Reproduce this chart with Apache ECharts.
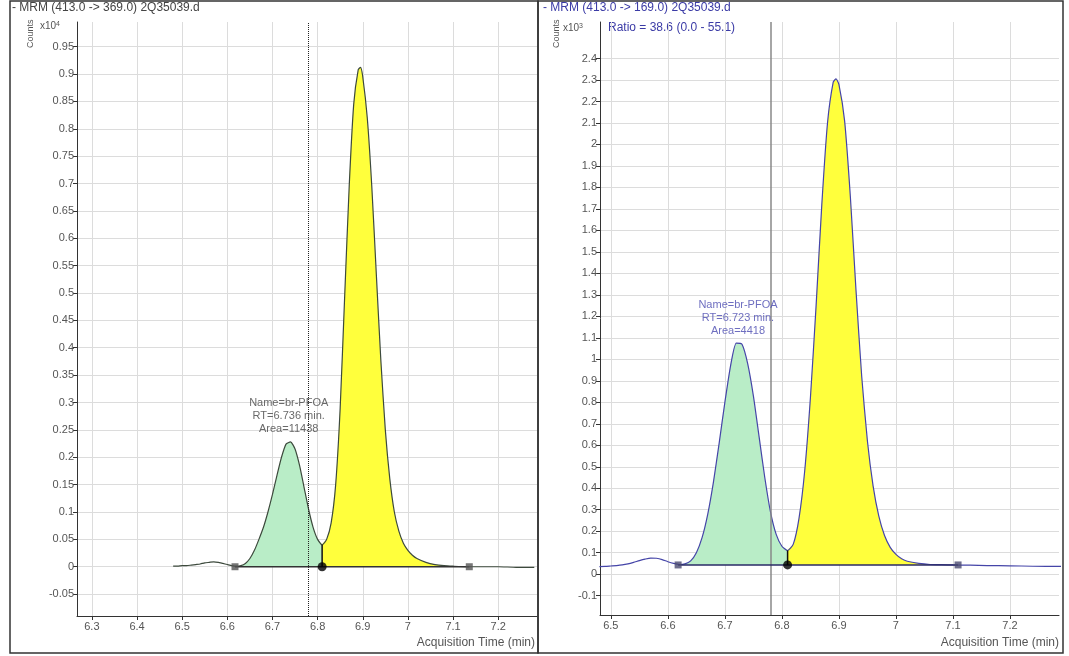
<!DOCTYPE html>
<html lang="en">
<head>
<meta charset="UTF-8" />
<title>MRM br-PFOA chromatograms</title>
<script src="https://cdn.jsdelivr.net/npm/echarts@6/dist/echarts.min.js"></script>
<style>
	html, body { margin: 0; padding: 0; background: #fff; }
	#main { width: 1069px; height: 656px; }
</style>
</head>
<body>
<div id="main"></div>
<script>
// left: MRM (413.0 -> 369.0), counts in x10^4
var leftTime = [6.48,6.49,6.50,6.51,6.52,6.53,6.54,6.55,6.56,6.57,6.58,6.59,6.60,6.61,6.62,6.63,6.64,6.65,6.66,6.67,6.68,6.69,6.70,6.71,6.72,6.73,6.74,6.75,6.76,6.77,6.78,6.79,6.80,6.81,6.82,6.83,6.84,6.85,6.86,6.87,6.88,6.89,6.895,6.90,6.91,6.92,6.93,6.94,6.95,6.96,6.97,6.98,6.99,7.00,7.01,7.02,7.04,7.06,7.08,7.10,7.13,7.16,7.20,7.24,7.28];
var leftCounts = [0.001,0.001,0.002,0.002,0.003,0.004,0.005,0.007,0.008,0.009,0.008,0.006,0.004,0.002,0.001,0.002,0.006,0.015,0.030,0.050,0.072,0.100,0.132,0.167,0.200,0.224,0.228,0.215,0.185,0.145,0.105,0.072,0.050,0.040,0.050,0.080,0.150,0.290,0.495,0.695,0.845,0.908,0.912,0.895,0.820,0.695,0.535,0.378,0.250,0.160,0.100,0.065,0.043,0.030,0.021,0.015,0.008,0.004,0.002,0.001,0.000,0.000,0.000,-0.001,-0.001];

// right: MRM (413.0 -> 169.0), counts in x10^3
var rightTime = [6.48,6.49,6.50,6.51,6.52,6.53,6.54,6.55,6.56,6.57,6.58,6.59,6.60,6.61,6.62,6.63,6.64,6.65,6.66,6.67,6.68,6.69,6.70,6.71,6.72,6.73,6.74,6.75,6.76,6.77,6.78,6.79,6.80,6.81,6.82,6.83,6.84,6.85,6.86,6.87,6.88,6.89,6.895,6.90,6.91,6.92,6.93,6.94,6.95,6.96,6.97,6.98,6.99,7.00,7.01,7.02,7.04,7.06,7.08,7.10,7.13,7.16,7.20,7.24,7.29];
var rightCounts = [0.035,0.036,0.038,0.040,0.043,0.048,0.055,0.063,0.070,0.075,0.074,0.068,0.058,0.050,0.045,0.048,0.062,0.100,0.170,0.280,0.430,0.610,0.800,0.970,1.075,1.070,0.980,0.830,0.640,0.450,0.290,0.185,0.130,0.110,0.140,0.260,0.480,0.820,1.250,1.720,2.100,2.290,2.305,2.280,2.110,1.760,1.320,0.920,0.620,0.410,0.270,0.180,0.125,0.092,0.072,0.060,0.050,0.045,0.044,0.043,0.042,0.040,0.039,0.037,0.036];

// integration: start, split, end and baseline level
var leftBase = [6.617, 6.81, 7.136];
var leftBaseLevel = 0;
var rightBase = [6.618, 6.81, 7.109];
var rightBaseLevel = 0.043;

// reference retention lines
var leftRefLine = 6.777;
var rightRefLine = 6.779;

// peak labels
var leftPeak = [6.736, 0.228];
var leftPeakText = ['Name=br-PFOA', 'RT=6.736 min.', 'Area=11438'];
var rightPeak = [6.723, 1.075];
var rightPeakText = ['Name=br-PFOA', 'RT=6.723 min.', 'Area=4418'];

// tick labels
var leftXTicks = [6.3,6.4,6.5,6.6,6.7,6.8,6.9,7.0,7.1,7.2];
var leftYTicks = [-0.05,0,0.05,0.1,0.15,0.2,0.25,0.3,0.35,0.4,0.45,0.5,0.55,0.6,0.65,0.7,0.75,0.8,0.85,0.9,0.95];
var rightXTicks = [6.5,6.6,6.7,6.8,6.9,7.0,7.1,7.2];
var rightYTicks = [-0.1,0,0.1,0.2,0.3,0.4,0.5,0.6,0.7,0.8,0.9,1.0,1.1,1.2,1.3,1.4,1.5,1.6,1.7,1.8,1.9,2.0,2.1,2.2,2.3,2.4];

var FONT = 'Liberation Sans';
function fmt(v) { return String(parseFloat(v.toFixed(2))); }

function pairs(ts, cs) { return ts.map(function (t, i) { return [t, cs[i]]; }); }

// part of trace between a and b, closed down to the baseline at both ends
function segment(ts, cs, a, b, level) {
	var out = [[a, level]];
	ts.forEach(function (t, i) { if (t >= a && t <= b) out.push([t, cs[i]]); });
	out.push([b, level]);
	return out;
}
function valueAt(ts, cs, t) {
	for (var i = 0; i < ts.length; i++) if (Math.abs(ts[i] - t) < 1e-6) return cs[i];
	return 0;
}

function axisCfg(grid, min, max, ticks, margin) {
	return {
		type: 'value', gridIndex: grid, min: min, max: max,
		axisLine: { show: true, onZero: false, lineStyle: { color: '#333' } },
		axisTick: { show: true, length: 4, customValues: ticks, lineStyle: { color: '#333' } },
		axisLabel: { customValues: ticks, formatter: fmt, color: '#555', fontSize: 11, fontFamily: FONT, margin: margin },
		splitLine: { show: true, lineStyle: { color: '#dcdcdc' } }
	};
}

function panelSeries(idx, ts, cs, base, level, refLine, refStyle, peak, peakText, lineColor, baseColor, markColor, textColor) {
	var split = base[1];
	var splitVal = valueAt(ts, cs, split);
	return [
		{ // green area (first peak)
			type: 'line', xAxisIndex: idx, yAxisIndex: idx, data: segment(ts, cs, base[0], split, level),
			showSymbol: false, smooth: 0.2, lineStyle: { width: 0 }, z: 2,
			areaStyle: { color: '#b9edc7', opacity: 1, origin: level }
		},
		{ // yellow area (main peak)
			type: 'line', xAxisIndex: idx, yAxisIndex: idx, data: segment(ts, cs, split, base[2], level),
			showSymbol: false, smooth: 0.2, lineStyle: { width: 0 }, z: 2,
			areaStyle: { color: '#ffff3c', opacity: 1, origin: level }
		},
		{ // trace
			type: 'line', xAxisIndex: idx, yAxisIndex: idx, data: pairs(ts, cs),
			showSymbol: false, smooth: 0.2, z: 4,
			lineStyle: { color: lineColor, width: 1.2 },
			markLine: {
				silent: true, symbol: 'none', label: { show: false },
				lineStyle: refStyle, data: [{ xAxis: refLine }]
			}
		},
		{ // baseline
			type: 'line', xAxisIndex: idx, yAxisIndex: idx,
			data: [[base[0], level], [base[2], level]],
			showSymbol: false, z: 5, lineStyle: { color: baseColor, width: 1.5 }
		},
		{ // split drop line
			type: 'line', xAxisIndex: idx, yAxisIndex: idx,
			data: [[split, level], [split, splitVal]],
			showSymbol: false, z: 5, lineStyle: { color: '#111', width: 1.5 }
		},
		{ // integration markers
			type: 'scatter', xAxisIndex: idx, yAxisIndex: idx, z: 6,
			data: [
				{ value: [base[0], level], symbol: 'rect', symbolSize: 7, itemStyle: { color: markColor } },
				{ value: [split, level], symbol: 'circle', symbolSize: 9, itemStyle: { color: '#000' } },
				{ value: [base[2], level], symbol: 'rect', symbolSize: 7, itemStyle: { color: markColor } }
			]
		},
		{ // peak label
			type: 'scatter', xAxisIndex: idx, yAxisIndex: idx, z: 7,
			symbolSize: 0, data: [peak],
			label: {
				show: true, position: 'top', distance: 6,
				formatter: peakText.join('\n'),
				color: textColor, fontSize: 11, lineHeight: 13, fontFamily: FONT
			}
		}
	];
}

var supText = function (n) {
	return { type: 'text', style: { text: '{a|x10}{b|' + n + '}', rich: {
		a: { fontSize: 10, fill: '#555', fontFamily: FONT },
		b: { fontSize: 7, fill: '#555', verticalAlign: 'top', fontFamily: FONT } } } };
};

var mychart = echarts.init(document.getElementById('main'));
mychart.setOption({
	animation: false,
	backgroundColor: '#fff',
	grid: [
		{ left: 77, top: 22, width: 460, height: 594 },
		{ left: 600, top: 22, width: 459, height: 593 }
	],
	xAxis: [
		axisCfg(0, 6.267, 7.286, leftXTicks, 5),
		axisCfg(1, 6.481, 7.286, rightXTicks, 5)
	],
	yAxis: [
		axisCfg(0, -0.09, 0.995, leftYTicks, 3),
		axisCfg(1, -0.19, 2.57, rightYTicks, 3)
	],
	series: [].concat(
		panelSeries(0, leftTime, leftCounts, leftBase, leftBaseLevel, leftRefLine,
			{ type: 'dotted', color: '#222', width: 1 }, leftPeak, leftPeakText, '#3d4a3d', '#333', '#555', '#444'),
		panelSeries(1, rightTime, rightCounts, rightBase, rightBaseLevel, rightRefLine,
			{ type: 'solid', color: '#888', width: 1.5 }, rightPeak, rightPeakText, '#4545a8', '#2a2a66', '#4a4a70', '#4a4ab0')
	),
	graphic: [
		{ type: 'rect', shape: { x: 10, y: 1, width: 528, height: 652 }, style: { fill: 'none', stroke: '#333', lineWidth: 1.5 } },
		{ type: 'rect', shape: { x: 538, y: 1, width: 525, height: 652 }, style: { fill: 'none', stroke: '#333', lineWidth: 1.5 } },
		{ type: 'text', left: 12, top: 2, style: { text: '- MRM (413.0 -> 369.0) 2Q35039.d', fill: '#444', font: '12px ' + FONT } },
		{ type: 'text', left: 543, top: 2, style: { text: '- MRM (413.0 -> 169.0) 2Q35039.d', fill: '#3b3ba6', font: '12px ' + FONT } },
		{ type: 'text', left: 608, top: 22, style: { text: 'Ratio = 38.6 (0.0 - 55.1)', fill: '#3b3ba6', font: '12px ' + FONT } },
		{ type: 'text', x: 26, y: 48, rotation: Math.PI / 2, style: { text: 'Counts', fill: '#555', font: '9px ' + FONT } },
		{ type: 'text', x: 552, y: 48, rotation: Math.PI / 2, style: { text: 'Counts', fill: '#555', font: '9px ' + FONT } },
		Object.assign(supText(4), { left: 40, top: 21 }),
		Object.assign(supText(3), { left: 563, top: 23 }),
		{ type: 'text', right: 534, top: 637, style: { text: 'Acquisition Time (min)', fill: '#555', font: '12px ' + FONT } },
		{ type: 'text', right: 10, top: 637, style: { text: 'Acquisition Time (min)', fill: '#555', font: '12px ' + FONT } }
	]
});
</script>
</body>
</html>
